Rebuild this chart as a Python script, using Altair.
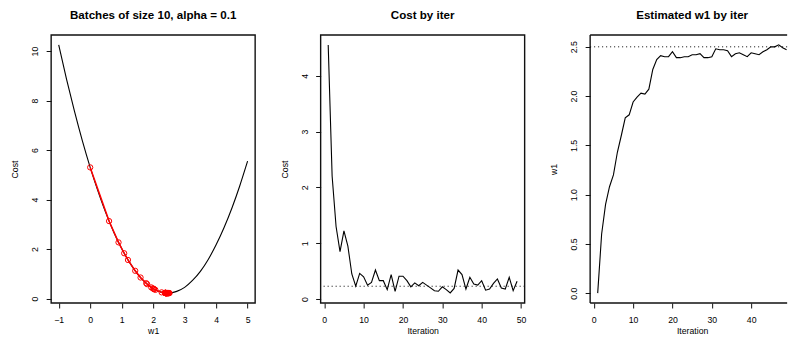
import altair as alt
import pandas as pd

FONT = "Liberation Sans"

# ---------------- data ----------------
# Panel 1: cost curve over w1
CURVE_W = [-1.0, -0.75, -0.5, -0.25, 0.0, 0.25, 0.5, 0.75, 1.0, 1.25, 1.5, 1.75, 2.0,
           2.25, 2.5, 2.75, 3.0, 3.25, 3.5, 3.75, 4.0, 4.25, 4.5, 4.75, 5.0]
CURVE_COST = [10.25, 8.86, 7.57, 6.38, 5.30, 4.33, 3.45, 2.68, 2.02, 1.46, 1.00, 0.65, 0.40,
              0.26, 0.22, 0.29, 0.45, 0.73, 1.10, 1.58, 2.17, 2.86, 3.65, 4.55, 5.55]

# Estimated w1 at each iteration (panel 3) and its cost on the curve (red path, panel 1)
ITER = list(range(1, 50))
W1_EST = [0.00, 0.60, 0.90, 1.08, 1.20, 1.43, 1.60, 1.78, 1.81, 1.94,
          1.99, 2.03, 2.02, 2.07, 2.27, 2.37, 2.41, 2.40, 2.40, 2.45,
          2.39, 2.39, 2.40, 2.40, 2.42, 2.42, 2.43, 2.39, 2.39, 2.40,
          2.48, 2.47, 2.47, 2.46, 2.40, 2.43, 2.44, 2.42, 2.40, 2.44,
          2.43, 2.42, 2.45, 2.47, 2.50, 2.50, 2.52, 2.49, 2.47]
PATH_COST = [5.30, 3.13, 2.27, 1.83, 1.56, 1.12, 0.85, 0.62, 0.58, 0.45,
             0.41, 0.38, 0.39, 0.35, 0.25, 0.23, 0.22, 0.22, 0.22, 0.22,
             0.23, 0.23, 0.22, 0.22, 0.22, 0.22, 0.22, 0.23, 0.23, 0.22,
             0.22, 0.22, 0.22, 0.22, 0.22, 0.22, 0.22, 0.22, 0.22, 0.22,
             0.22, 0.22, 0.22, 0.22, 0.22, 0.22, 0.22, 0.22, 0.22]

# Panel 2: batch cost by iteration
BATCH_COST = [4.55, 2.20, 1.30, 0.85, 1.22, 0.95, 0.45, 0.23, 0.46, 0.40,
              0.25, 0.30, 0.52, 0.33, 0.33, 0.17, 0.44, 0.14, 0.41, 0.41,
              0.33, 0.22, 0.29, 0.24, 0.30, 0.25, 0.20, 0.15, 0.14, 0.22,
              0.17, 0.11, 0.19, 0.52, 0.44, 0.18, 0.39, 0.27, 0.25, 0.33,
              0.16, 0.18, 0.28, 0.36, 0.20, 0.18, 0.39, 0.15, 0.32]

MIN_COST = [0.23]
TRUE_W1 = [2.5]

TITLES = ["Batches of size 10, alpha = 0.1", "Cost by iter", "Estimated w1 by iter"]
X1_TICKS = [-1, 0, 1, 2, 3, 4, 5]
Y1_TICKS = [0, 2, 4, 6, 8, 10]
IT_TICKS = [0, 10, 20, 30, 40, 50]
IT3_TICKS = [0, 10, 20, 30, 40]
Y2_TICKS = [0, 1, 2, 3, 4]
Y3_TICKS = [0.0, 0.5, 1.0, 1.5, 2.0, 2.5]

# ---------------- tables ----------------
curve_df = pd.DataFrame({"w1": CURVE_W, "cost": CURVE_COST})
path_df = pd.DataFrame({"iter": ITER, "w1": W1_EST, "cost": PATH_COST})
cost_df = pd.DataFrame({"iter": ITER, "cost": BATCH_COST})
w_df = pd.DataFrame({"iter": ITER, "w1": W1_EST})
min_df = pd.DataFrame({"cost": MIN_COST})
true_df = pd.DataFrame({"w1": TRUE_W1})
one_df = pd.DataFrame({"k": [0]})

W, H = 204, 268
W3 = 197
STEP = 269.5
PX_PER_ITER = W / 51.84
FRAME = "#111111"
FRAME_W = 1.4

AX_COMMON = dict(grid=False, domain=False, minExtent=0, maxExtent=60)


def xaxis(values, fmt, title, width):
    return alt.Axis(values=values, format=fmt, title=title,
                    tickSize=5, tickColor=FRAME, tickWidth=1,
                    labelFont=FONT, labelFontSize=8.7, labelColor="black",
                    labelPadding=11.5, labelBaseline="middle", labelAlign="center",
                    labelAngle=0, labelFlush=False, labelOverlap=False,
                    titleFont=FONT, titleFontSize=8.7, titleFontWeight="normal",
                    titleColor="black", titleX=width / 2, titleY=28,
                    titleAlign="center", titleBaseline="middle", **AX_COMMON)


def yaxis(values, fmt, title):
    return alt.Axis(values=values, format=fmt, title=title,
                    tickSize=5, tickColor=FRAME, tickWidth=1,
                    labelFont=FONT, labelFontSize=8.7, labelColor="black",
                    labelPadding=11.5, labelBaseline="middle", labelAlign="center",
                    labelAngle=270, labelFlush=False, labelOverlap=False,
                    titleFont=FONT, titleFontSize=8.7, titleFontWeight="normal",
                    titleColor="black", titleAngle=270, titleX=-36.5, titleY=H / 2,
                    titleAlign="center", titleBaseline="middle", **AX_COMMON)


def ttl(text, dx=0):
    return alt.TitleParams(text=text, font=FONT, fontSize=11.6, fontWeight="bold",
                           color="black", offset=12.5, anchor="middle", dx=dx)


def box(width):
    # plot frame (R's box()) drawn round the plotting region
    return alt.Chart(one_df).mark_rect(filled=False, stroke=FRAME, strokeWidth=FRAME_W).encode(
        x=alt.value(0), x2=alt.value(width), y=alt.value(0), y2=alt.value(H))


def open_box(width):
    # frame whose right side falls outside the picture: top, left and bottom edges only
    top = alt.Chart(one_df).mark_rule(color=FRAME, strokeWidth=FRAME_W).encode(
        x=alt.value(0), x2=alt.value(width), y=alt.value(0))
    left = alt.Chart(one_df).mark_rule(color=FRAME, strokeWidth=FRAME_W).encode(
        x=alt.value(0), y=alt.value(0), y2=alt.value(H))
    bottom = alt.Chart(one_df).mark_rule(color=FRAME, strokeWidth=FRAME_W).encode(
        x=alt.value(0), x2=alt.value(width), y=alt.value(H))
    return [top, left, bottom]


# ---------------- panel 1 ----------------
xs1 = alt.Scale(domain=[-1.24, 5.24], nice=False, zero=False)
ys1 = alt.Scale(domain=[-0.18, 10.65], nice=False, zero=False)
X1 = alt.X("w1:Q", scale=xs1, axis=xaxis(X1_TICKS, "d", "w1", W))
Y1 = alt.Y("cost:Q", scale=ys1, axis=yaxis(Y1_TICKS, "d", "Cost"))

curve = alt.Chart(curve_df).mark_line(color="black", strokeWidth=1.1,
                                       interpolate="monotone").encode(x=X1, y=Y1)
path = alt.Chart(path_df).mark_line(color="#ff0000", strokeWidth=1.5).encode(
    x=X1, y=Y1, order="iter:Q")
pts = alt.Chart(path_df).mark_point(shape="circle", filled=False, color="#ff0000",
                                    size=28, strokeWidth=1, opacity=1).encode(x=X1, y=Y1)
p1 = alt.layer(curve, path, pts, box(W)).properties(width=W, height=H, title=ttl(TITLES[0]))

# ---------------- panel 2 ----------------
xs2 = alt.Scale(domain=[-0.92, 50.92], nice=False, zero=False)
ys2 = alt.Scale(domain=[-0.07, 4.73], nice=False, zero=False)
X2 = alt.X("iter:Q", scale=xs2, axis=xaxis(IT_TICKS, "d", "Iteration", W))
Y2 = alt.Y("cost:Q", scale=ys2, axis=yaxis(Y2_TICKS, "d", "Cost"))
line2 = alt.Chart(cost_df).mark_line(color="black", strokeWidth=1.1).encode(x=X2, y=Y2)
h2 = alt.Chart(min_df).mark_rule(color="black", strokeWidth=1, strokeDash=[1, 3]).encode(y=Y2)
p2 = alt.layer(line2, h2, box(W)).properties(width=W, height=H, title=ttl(TITLES[1]))

# ---------------- panel 3 (clipped at the right edge of the picture) ----------------
xs3 = alt.Scale(domain=[-0.92, -0.92 + W3 / PX_PER_ITER], nice=False, zero=False)
ys3 = alt.Scale(domain=[-0.10, 2.62], nice=False, zero=False)
X3 = alt.X("iter:Q", scale=xs3, axis=xaxis(IT3_TICKS, "d", "Iteration", W))
Y3 = alt.Y("w1:Q", scale=ys3, axis=yaxis(Y3_TICKS, ".1f", "w1"))
line3 = alt.Chart(w_df).mark_line(color="black", strokeWidth=1.1).encode(x=X3, y=Y3)
h3 = alt.Chart(true_df).mark_rule(color="black", strokeWidth=1, strokeDash=[1, 3]).encode(y=Y3)
p3 = alt.layer(line3, h3, *open_box(W3)).properties(
    width=W3, height=H, title=ttl(TITLES[2], dx=(W - W3) / 2))

chart = alt.hconcat(p1, p2, p3, spacing=STEP - W, bounds="flush").properties(
    padding={"left": 2.15, "top": 2, "right": 0, "bottom": 0},
    background="white",
).configure_view(strokeWidth=0)

chart.save("out.html", embed_options={"renderer": "svg", "actions": False})
